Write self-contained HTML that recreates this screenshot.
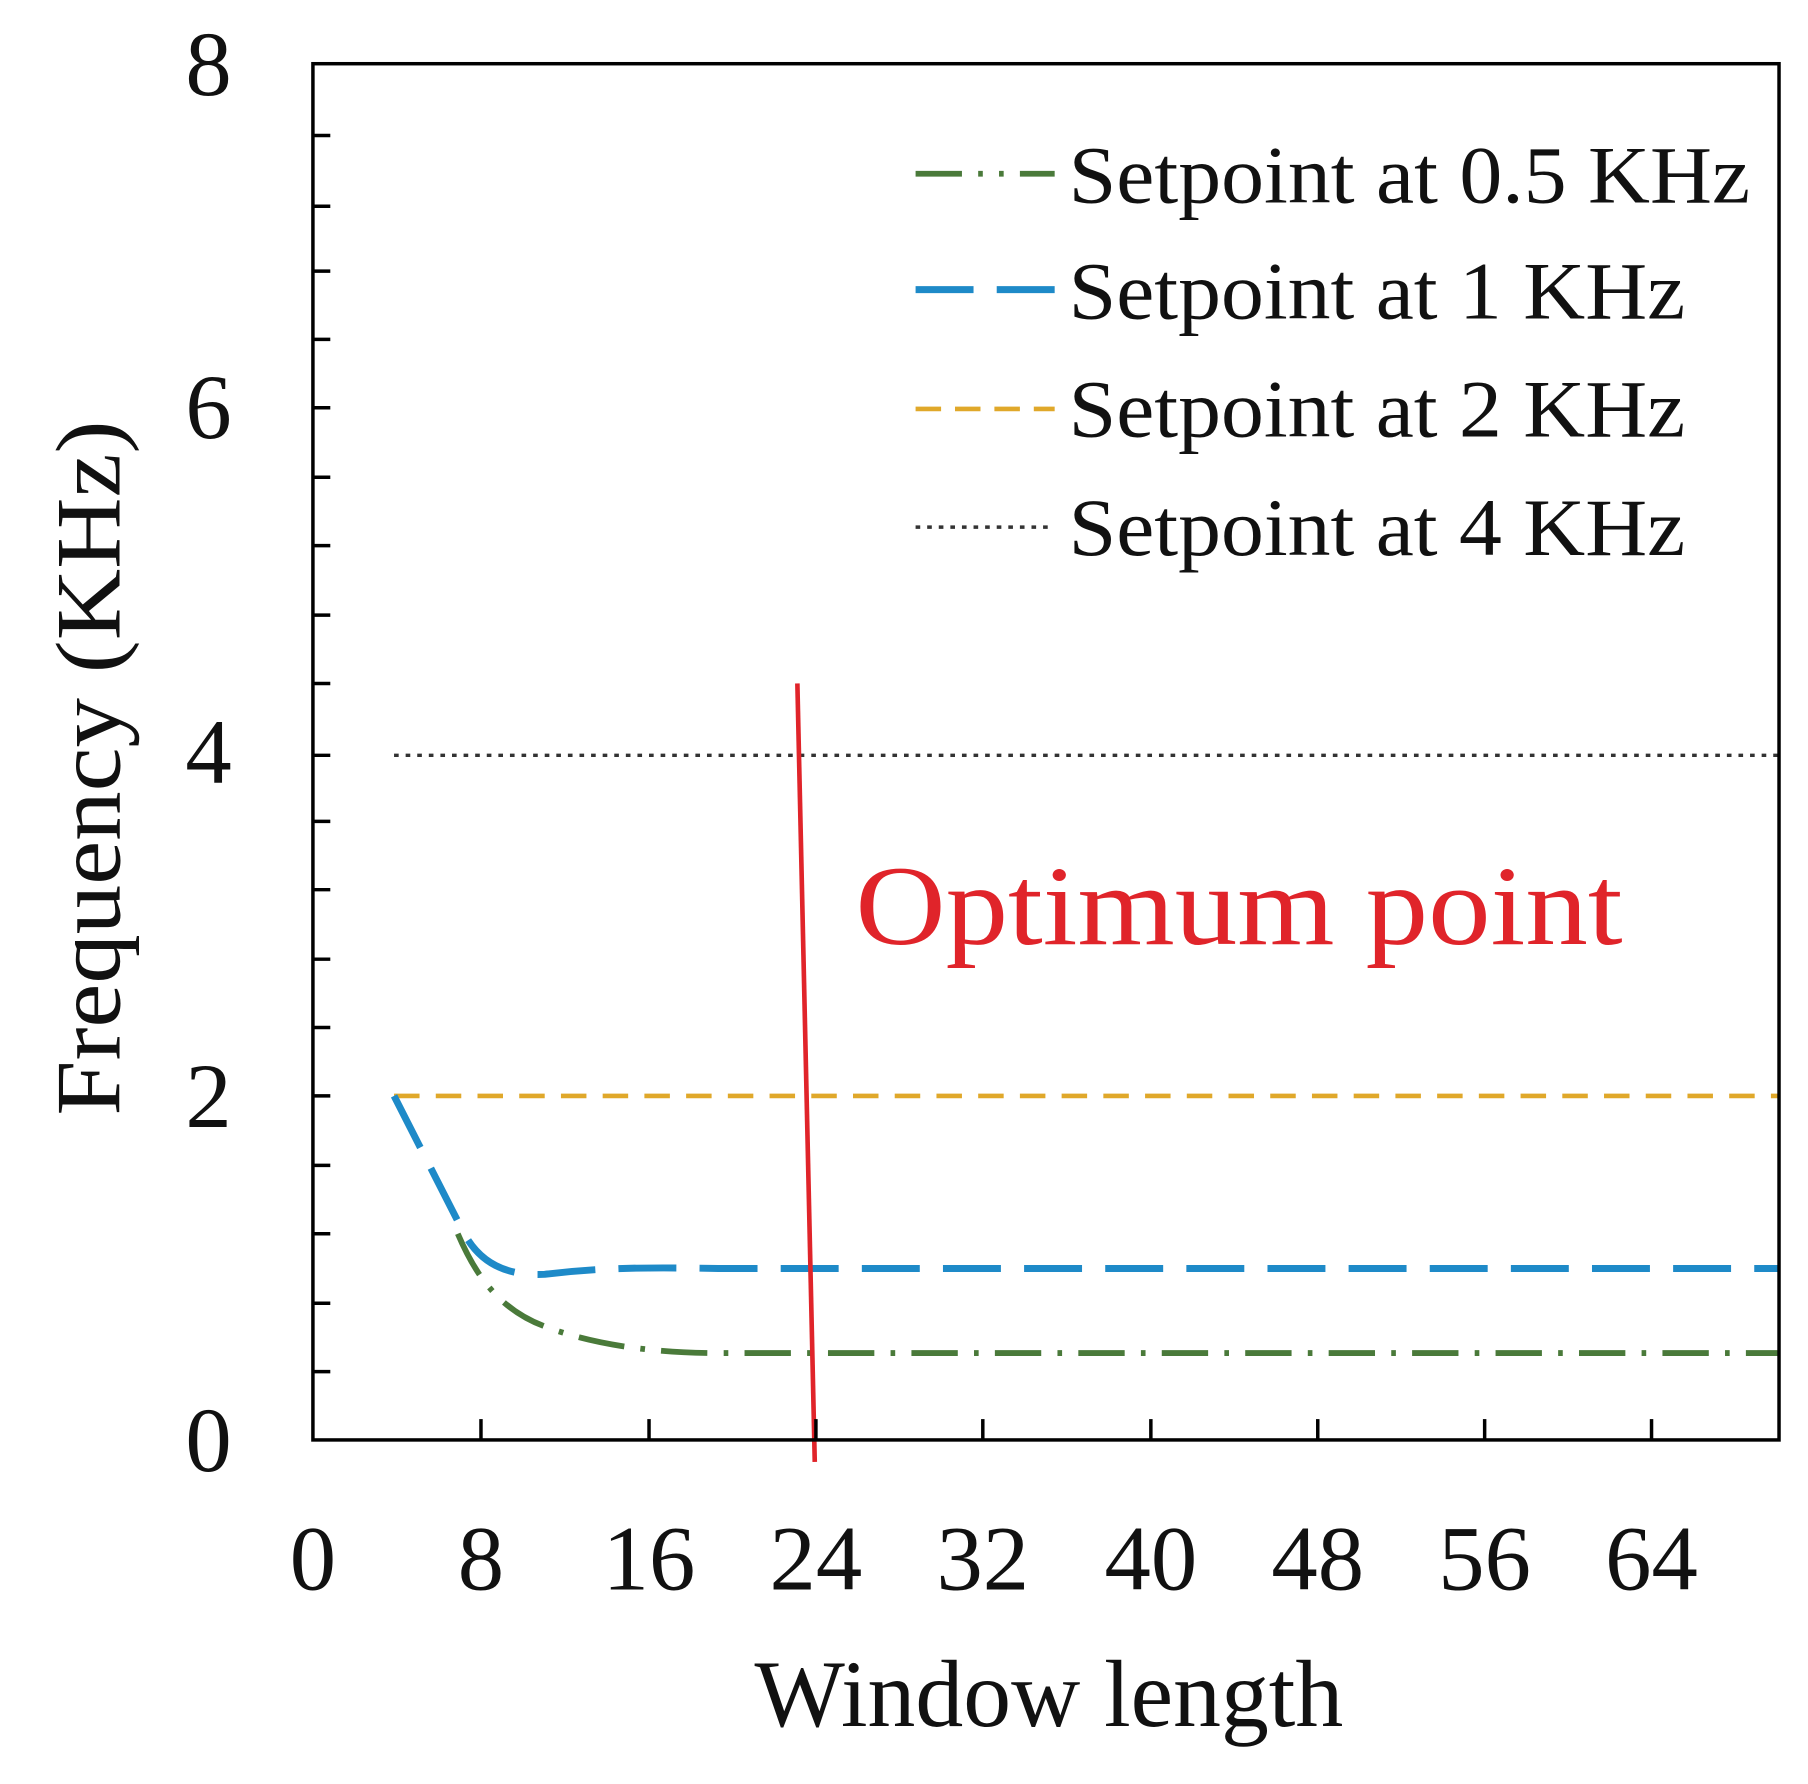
<!DOCTYPE html>
<html><head><style>html,body{margin:0;padding:0;background:#fff}svg{display:block}</style></head>
<body>
<svg width="1808" height="1784" viewBox="0 0 1560 1540" preserveAspectRatio="none" xmlns="http://www.w3.org/2000/svg" font-family="Liberation Serif, serif">
<rect width="1560" height="1540" fill="#fff"/>
<path d="M340,946 L1535,946" stroke="#e0a82a" stroke-width="4" stroke-dasharray="22,14" fill="none"/>
<path d="M340,652 L1535,652" stroke="#333" stroke-width="3" stroke-dasharray="4,6" fill="none"/>
<path d="M395,1065 C410,1100 430,1130 470,1145 C510,1160 560,1168 620,1168 L1535,1168" stroke="#4a7a3a" stroke-width="5" stroke-dasharray="40,14,4,14" fill="none"/>
<path d="M340,946 L398,1060 C410,1085 430,1102 470,1100 C520,1094 560,1094 620,1095 L1535,1095" stroke="#1e8ac8" stroke-width="6" stroke-dasharray="50,20" fill="none"/>
<line x1="688" y1="590" x2="703" y2="1262" stroke="#e0242a" stroke-width="4"/>
<text x="738" y="815" font-size="98" fill="#e0242a" textLength="662" lengthAdjust="spacingAndGlyphs">Optimum point</text>
<rect x="270" y="55" width="1265" height="1188" fill="none" stroke="#000" stroke-width="3"/>
<g stroke="#000" stroke-width="3">
<line x1="270" y1="117" x2="285" y2="117"/><line x1="270" y1="178" x2="285" y2="178"/><line x1="270" y1="234" x2="285" y2="234"/><line x1="270" y1="293" x2="285" y2="293"/><line x1="270" y1="352" x2="285" y2="352"/><line x1="270" y1="412" x2="285" y2="412"/><line x1="270" y1="471" x2="285" y2="471"/><line x1="270" y1="531" x2="285" y2="531"/><line x1="270" y1="590" x2="285" y2="590"/><line x1="270" y1="652" x2="285" y2="652"/><line x1="270" y1="709" x2="285" y2="709"/><line x1="270" y1="768" x2="285" y2="768"/><line x1="270" y1="828" x2="285" y2="828"/><line x1="270" y1="887" x2="285" y2="887"/><line x1="270" y1="946" x2="285" y2="946"/><line x1="270" y1="1006" x2="285" y2="1006"/><line x1="270" y1="1065" x2="285" y2="1065"/><line x1="270" y1="1125" x2="285" y2="1125"/><line x1="270" y1="1184" x2="285" y2="1184"/>
<line x1="415" y1="1243" x2="415" y2="1225"/><line x1="560" y1="1243" x2="560" y2="1225"/><line x1="704" y1="1243" x2="704" y2="1225"/><line x1="848" y1="1243" x2="848" y2="1225"/><line x1="993" y1="1243" x2="993" y2="1225"/><line x1="1137" y1="1243" x2="1137" y2="1225"/><line x1="1281" y1="1243" x2="1281" y2="1225"/><line x1="1425" y1="1243" x2="1425" y2="1225"/>
</g>
<g font-size="80" text-anchor="middle" fill="#111">
<text x="180" y="82">8</text><text x="180" y="378">6</text><text x="180" y="676">4</text><text x="180" y="973">2</text><text x="180" y="1270">0</text>
<text x="270" y="1372">0</text><text x="415" y="1372">8</text><text x="560" y="1372">16</text><text x="704" y="1372">24</text><text x="848" y="1372">32</text><text x="993" y="1372">40</text><text x="1137" y="1372">48</text><text x="1281" y="1372">56</text><text x="1425" y="1372">64</text>
</g>
<text x="905" y="1490" font-size="82" text-anchor="middle" fill="#111" textLength="508" lengthAdjust="spacingAndGlyphs">Window length</text>
<text transform="translate(103,663) rotate(-90)" font-size="80" text-anchor="middle" fill="#111" textLength="600" lengthAdjust="spacingAndGlyphs">Frequency (KHz)</text>
<line x1="790" y1="150" x2="910" y2="150" stroke="#4a7a3a" stroke-width="5" stroke-dasharray="40,14,4,14,4,14"/>
<line x1="790" y1="250" x2="910" y2="250" stroke="#1e8ac8" stroke-width="6" stroke-dasharray="50,20"/>
<line x1="790" y1="353" x2="910" y2="353" stroke="#e0a82a" stroke-width="4" stroke-dasharray="22,12"/>
<line x1="790" y1="455" x2="910" y2="455" stroke="#333" stroke-width="3" stroke-dasharray="4,6"/>
<g font-size="70" fill="#111">
<text x="922" y="175" textLength="588" lengthAdjust="spacingAndGlyphs">Setpoint at 0.5 KHz</text>
<text x="922" y="275" textLength="532" lengthAdjust="spacingAndGlyphs">Setpoint at 1 KHz</text>
<text x="922" y="377" textLength="532" lengthAdjust="spacingAndGlyphs">Setpoint at 2 KHz</text>
<text x="922" y="479" textLength="532" lengthAdjust="spacingAndGlyphs">Setpoint at 4 KHz</text>
</g>
</svg>
</body></html>
